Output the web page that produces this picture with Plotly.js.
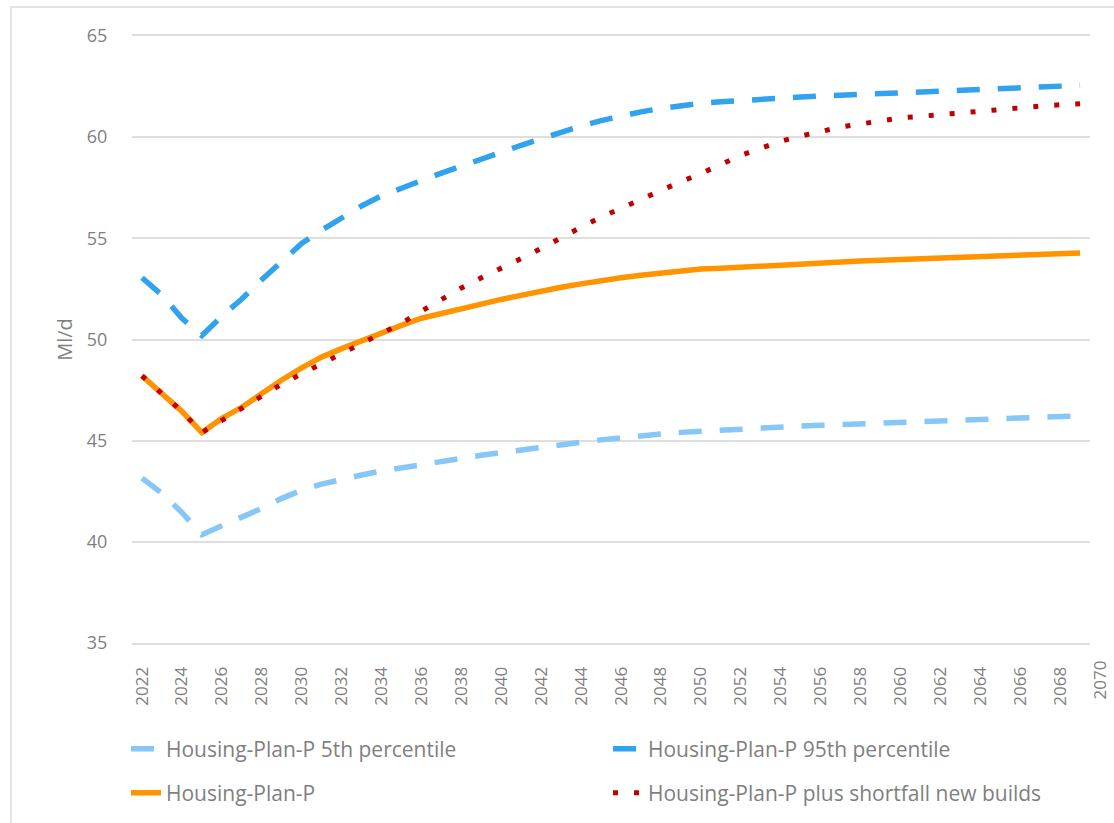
<!DOCTYPE html>
<html>
<head>
<meta charset="utf-8">
<script src="https://cdn.plot.ly/plotly-3.0.1.min.js"></script>
<style>
  html, body { margin: 0; padding: 0; background: #ffffff; overflow: hidden; }
  #frame { position: absolute; left: 10px; top: 6px; width: 1300px; height: 1000px;
           border-left: 2px solid #e3e3e3; border-top: 2px solid #e3e3e3; pointer-events: none; }
  #chart { position: absolute; left: 0; top: 0; width: 1114px; height: 823px; }
</style>
</head>
<body>
<div id="chart"></div>
<div id="frame"></div>
<script>
const years = [];
for (let y = 2022; y <= 2069; y++) years.push(y);

const p5 = [43.15, 42.4, 41.45, 40.35, 40.8, 41.2, 41.65, 42.15, 42.55, 42.85,
  43.1, 43.3, 43.5, 43.67, 43.83, 43.96, 44.12, 44.28, 44.42, 44.55,
  44.68, 44.8, 44.92, 45.04, 45.15, 45.25, 45.33, 45.41, 45.47, 45.52,
  45.57, 45.63, 45.68, 45.72, 45.76, 45.8, 45.84, 45.88, 45.92, 45.96,
  46.0, 46.04, 46.08, 46.1, 46.14, 46.18, 46.21, 46.23];

const p95 = [53.05, 52.2, 51.05, 50.2, 51.15, 52.0, 52.95, 53.85, 54.75, 55.4,
  56.0, 56.6, 57.1, 57.5, 57.85, 58.22, 58.58, 58.93, 59.25, 59.6,
  59.92, 60.25, 60.55, 60.82, 61.05, 61.25, 61.42, 61.58, 61.68, 61.75,
  61.82, 61.88, 61.93, 61.98, 62.03, 62.07, 62.11, 62.15, 62.19, 62.23,
  62.27, 62.31, 62.35, 62.4, 62.45, 62.49, 62.52, 62.56];

const planP = [48.2, 47.35, 46.45, 45.4, 46.1, 46.65, 47.35, 48.0, 48.6, 49.13,
  49.55, 49.95, 50.35, 50.7, 51.05, 51.3, 51.5, 51.75, 51.98, 52.2,
  52.4, 52.58, 52.75, 52.92, 53.05, 53.18, 53.3, 53.42, 53.48, 53.52,
  53.58, 53.63, 53.68, 53.73, 53.78, 53.83, 53.88, 53.92, 53.96, 53.99,
  54.02, 54.05, 54.08, 54.12, 54.16, 54.19, 54.23, 54.28];

const shortfall = [48.2, 47.35, 46.45, 45.4, 45.98, 46.55, 47.2, 47.8, 48.3, 48.8,
  49.3, 49.75, 50.25, 50.8, 51.4, 52.0, 52.55, 53.05, 53.5, 54.0,
  54.5, 55.05, 55.55, 56.05, 56.5, 56.95, 57.38, 57.8, 58.2, 58.65,
  59.1, 59.45, 59.8, 60.05, 60.3, 60.5, 60.65, 60.82, 60.95, 61.03,
  61.12, 61.22, 61.32, 61.4, 61.47, 61.53, 61.6, 61.65];

const seriesNames = [
  'Housing-Plan-P 5th percentile',
  'Housing-Plan-P 95th percentile',
  'Housing-Plan-P',
  'Housing-Plan-P plus shortfall new builds'
];

const tickYears = [];
for (let y = 2022; y <= 2070; y += 2) tickYears.push(y);
const tickText = tickYears.map(String);
const xRange = [2021.5, 2069.5];

const grey = '#7f7f7f';
const fontFam = '"Open Sans", "DejaVu Sans", sans-serif';

const traces = [
  { x: years, y: p5, name: seriesNames[0], mode: 'lines', legend: 'legend',
    line: { color: '#87c7f8', width: 5.5, dash: '23px,18px' } },
  { x: years, y: p95, name: seriesNames[1], mode: 'lines', legend: 'legend2',
    line: { color: '#30a2ee', width: 5.5, dash: '23px,18px' } },
  { x: years, y: planP, name: seriesNames[2], mode: 'lines', legend: 'legend3',
    line: { color: '#ff9300', width: 5.5 } },
  { x: years, y: shortfall, name: seriesNames[3], mode: 'lines', legend: 'legend4',
    line: { color: '#c00000', width: 5, dash: '5px,16px' } }
];

// label for the last tick, which lies just past the plotted range
const lastTick = tickYears[tickYears.length - 1];
const lastTickPaper = (lastTick - xRange[0]) / (xRange[1] - xRange[0]);

function legendAt(left, mid) {
  return {
    orientation: 'h',
    xref: 'container', yref: 'container',
    x: left / 1114, y: 1 - mid / 823,
    xanchor: 'left', yanchor: 'middle',
    font: { family: fontFam, size: 21, color: grey },
    bgcolor: 'rgba(0,0,0,0)'
  };
}

const layout = {
  width: 1114, height: 823,
  margin: { l: 132, r: 24, t: 36, b: 180 },
  paper_bgcolor: '#ffffff',
  plot_bgcolor: '#ffffff',
  font: { family: fontFam, color: grey },
  showlegend: true,
  xaxis: {
    type: 'linear',
    range: xRange,
    tickmode: 'array', tickvals: tickYears, ticktext: tickText,
    tickangle: -90,
    ticks: 'outside', ticklen: 15, tickcolor: 'rgba(0,0,0,0)',
    tickfont: { family: fontFam, size: 17, color: grey },
    showgrid: false, zeroline: false,
    showline: true, mirror: true, linecolor: '#dedede', linewidth: 2,
    fixedrange: true
  },
  yaxis: {
    range: [35, 65],
    tick0: 35, dtick: 5,
    ticks: 'outside', ticklen: 20, tickcolor: 'rgba(0,0,0,0)',
    tickfont: { family: fontFam, size: 18, color: grey },
    showgrid: true, gridcolor: '#dedede', gridwidth: 2,
    zeroline: false, showline: false,
    title: { text: 'Ml/d', font: { family: fontFam, size: 20, color: grey }, standoff: 8 },
    fixedrange: true
  },
  legend: legendAt(126, 749),
  legend2: legendAt(608, 749),
  legend3: legendAt(126, 793),
  legend4: legendAt(608, 793),
  annotations: [{
    xref: 'paper', yref: 'paper',
    x: lastTickPaper, y: 0, yshift: -15,
    xanchor: 'center', yanchor: 'top',
    text: String(lastTick), textangle: -90, showarrow: false,
    font: { family: fontFam, size: 17, color: grey }
  }]
};

Plotly.newPlot('chart', traces, layout, { displayModeBar: false, staticPlot: true });
</script>
</body>
</html>
